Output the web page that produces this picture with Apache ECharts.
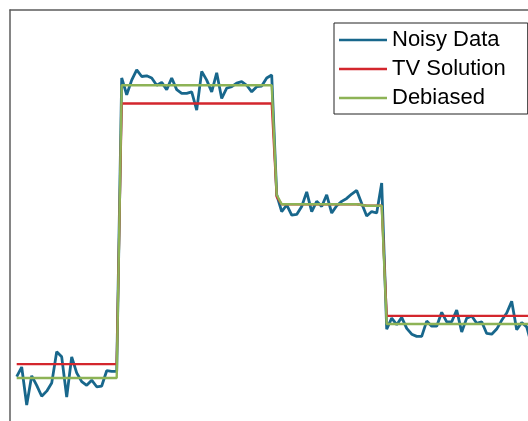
<!DOCTYPE html>
<html>
<head>
<meta charset="utf-8">
<script src="https://cdn.jsdelivr.net/npm/echarts@6/dist/echarts.min.js"></script>
<style>html,body{margin:0;padding:0;background:#fff}#c{width:528px;height:421px}</style>
</head>
<body>
<div id="c"></div>
<script>
var seriesNames = ['Noisy Data', 'TV Solution', 'Debiased'];

var noisy = [
  0.02, 0.15, -0.37, 0.03, -0.10, -0.25, -0.18, -0.07, 0.36, 0.29,
  -0.26, 0.29, 0.07, -0.05, -0.10, -0.03, -0.12, -0.11, 0.10, 0.09, 0.09,
  4.11, 3.88, 4.08, 4.22, 4.13, 4.14, 4.11, 4.01, 4.05, 3.95,
  4.11, 3.95, 3.90, 3.90, 3.92, 3.67, 4.20, 4.08, 3.92, 4.18,
  3.83, 3.97, 3.99, 4.04, 4.06, 4.01, 3.92, 3.99, 4.00, 4.11, 4.15,
  2.51, 2.28, 2.37, 2.23, 2.24, 2.35, 2.55, 2.28, 2.42, 2.35,
  2.51, 2.26, 2.36, 2.42, 2.46, 2.52, 2.57, 2.39, 2.22, 2.28, 2.26, 2.67,
  0.67, 0.82, 0.73, 0.83, 0.68, 0.60, 0.57, 0.57, 0.78, 0.71,
  0.71, 0.90, 0.77, 0.77, 0.93, 0.63, 0.82, 0.85, 0.75, 0.77,
  0.61, 0.60, 0.67, 0.79, 0.89, 1.05, 0.66, 0.76, 0.70, 0.45
];

var tvSolution = [
  0.19, 0.19, 0.19, 0.19, 0.19, 0.19, 0.19, 0.19, 0.19, 0.19,
  0.19, 0.19, 0.19, 0.19, 0.19, 0.19, 0.19, 0.19, 0.19, 0.19, 0.19,
  3.76, 3.76, 3.76, 3.76, 3.76, 3.76, 3.76, 3.76, 3.76, 3.76,
  3.76, 3.76, 3.76, 3.76, 3.76, 3.76, 3.76, 3.76, 3.76, 3.76,
  3.76, 3.76, 3.76, 3.76, 3.76, 3.76, 3.76, 3.76, 3.76, 3.76, 3.76,
  2.48, 2.38, 2.38, 2.38, 2.38, 2.38, 2.38, 2.38, 2.38, 2.38,
  2.38, 2.38, 2.38, 2.38, 2.38, 2.38, 2.38, 2.37, 2.36, 2.36, 2.36, 2.36,
  0.85, 0.85, 0.85, 0.85, 0.85, 0.85, 0.85, 0.85, 0.85, 0.85,
  0.85, 0.85, 0.85, 0.85, 0.85, 0.85, 0.85, 0.85, 0.85, 0.85,
  0.85, 0.85, 0.85, 0.85, 0.85, 0.85, 0.85, 0.85, 0.85, 0.85
];

var debiased = [
  0.00, 0.00, 0.00, 0.00, 0.00, 0.00, 0.00, 0.00, 0.00, 0.00,
  0.00, 0.00, 0.00, 0.00, 0.00, 0.00, 0.00, 0.00, 0.00, 0.00, 0.00,
  4.01, 4.01, 4.01, 4.01, 4.01, 4.01, 4.01, 4.01, 4.01, 4.01,
  4.01, 4.01, 4.01, 4.01, 4.01, 4.01, 4.01, 4.01, 4.01, 4.01,
  4.01, 4.01, 4.01, 4.01, 4.01, 4.01, 4.01, 4.01, 4.01, 4.01, 4.01,
  2.51, 2.38, 2.38, 2.38, 2.38, 2.38, 2.38, 2.38, 2.38, 2.38,
  2.38, 2.38, 2.38, 2.38, 2.38, 2.38, 2.38, 2.37, 2.36, 2.36, 2.36, 2.36,
  0.74, 0.74, 0.74, 0.74, 0.74, 0.74, 0.74, 0.74, 0.74, 0.74,
  0.74, 0.74, 0.74, 0.74, 0.74, 0.74, 0.74, 0.74, 0.74, 0.74,
  0.74, 0.74, 0.74, 0.74, 0.74, 0.74, 0.74, 0.74, 0.74, 0.74
];

function pairs(arr) { return arr.map(function (v, i) { return [i + 1, v]; }); }

var chart = echarts.init(document.getElementById('c'), null, { renderer: 'canvas' });
var axisLineStyle = { color: '#5c5c5c', width: 1.5 };
chart.setOption({
  animation: false,
  backgroundColor: '#ffffff',
  grid: { left: 10, top: 10, right: 0, bottom: 0, containLabel: false },
  xAxis: {
    type: 'value', position: 'top', min: -0.34, max: 103.26,
    axisLine: { show: true, onZero: false, lineStyle: axisLineStyle },
    axisTick: { show: false }, axisLabel: { show: false }, splitLine: { show: false }
  },
  yAxis: {
    type: 'value', min: -0.589, max: 5.041,
    axisLine: { show: true, onZero: false, lineStyle: axisLineStyle },
    axisTick: { show: false }, axisLabel: { show: false }, splitLine: { show: false }
  },
  legend: {
    orient: 'vertical', left: 334, top: 23,
    data: seriesNames,
    icon: 'rect',
    itemWidth: 48, itemHeight: 2.5, itemGap: 7,
    padding: [6, 22, 5, 5],
    borderColor: '#222', borderWidth: 1, backgroundColor: '#fff',
    textStyle: { fontFamily: 'Liberation Sans, Arial, sans-serif', fontSize: 22, color: '#000', lineHeight: 20 }
  },
  series: [
    { name: seriesNames[0], type: 'line', data: pairs(noisy), symbol: 'none', color: '#18678c',
      lineStyle: { width: 2.8, color: '#18678c' } },
    { name: seriesNames[1], type: 'line', data: pairs(tvSolution), symbol: 'none', color: '#d3262d',
      lineStyle: { width: 2.3, color: '#d3262d' } },
    { name: seriesNames[2], type: 'line', data: pairs(debiased), symbol: 'none', color: '#8db356',
      lineStyle: { width: 2.4, color: '#8db356' } }
  ]
});
</script>
</body>
</html>
